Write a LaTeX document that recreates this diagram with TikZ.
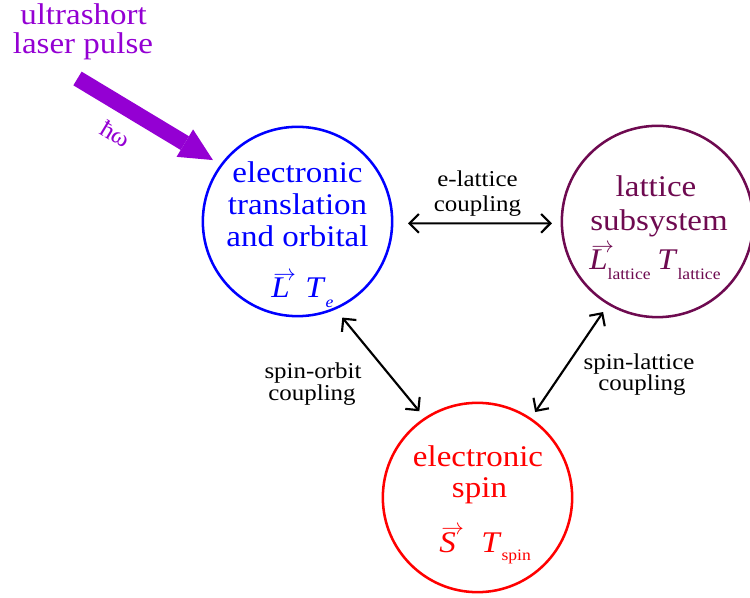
\documentclass[tikz,border=0pt]{standalone}
\usepackage{fix-cm}
\usepackage{fontspec}
\setmainfont[FakeStretch=1.1]{Liberation Serif}
\usetikzlibrary{arrows.meta,calc}
\definecolor{eblue}{RGB}{0,0,255}
\definecolor{latc}{RGB}{110,10,80}
\definecolor{spinred}{RGB}{255,0,0}
\definecolor{laser}{RGB}{148,0,211}
\newcommand{\mysub}[2][-7.5pt]{\raisebox{#1}{\fontsize{12}{13}\selectfont #2}}
\newcommand{\vecx}[1]{\leavevmode\rlap{\raisebox{13pt}{\hspace{1.5pt}\fontsize{17}{17}\selectfont$\rightarrow$}}\textit{#1}}
\begin{document}
\begin{tikzpicture}[x=0.75pt,y=-0.75pt,
  sys/.style={circle,draw,line width=1.9pt,minimum size=142pt,inner sep=0pt,outer sep=0pt},
  big/.style={anchor=base,inner sep=0pt,font=\fontsize{22.5}{26}\selectfont},
  bigw/.style={anchor=base west,inner sep=0pt,font=\fontsize{22.5}{26}\selectfont},
  cpltxt/.style={anchor=base,inner sep=0pt,font=\fontsize{17}{20}\selectfont},
  cpl/.style={line width=1.6pt,{Straight Barb[length=7pt,width=14pt]}-{Straight Barb[length=7pt,width=14pt]}}]
\useasboundingbox (0,0) rectangle (750,598);
% subsystems
\node[sys,draw=eblue] (blue) at (297.5,221.5) {};
\node[sys,draw=latc,minimum size=143.5pt] (latt) at (657.5,221.5) {};
\node[sys,draw=spinred] (spin) at (477.5,497.5) {};
% electronic translation and orbital
\node[big,text=eblue] (b1) at (297.5,183) {electronic};
\node[big,text=eblue] (b2) at (297.5,215) {translation};
\node[big,text=eblue] (b3) at (297.5,247) {and orbital};
\node[bigw,text=eblue] (bL) at (271,298) {\vecx{L}};
\node[bigw,text=eblue] (bT) at (305,298) {\textit{T}\mysub{\textit{e}}};
% lattice
\node[big,text=latc] (l1) at (656,197) {lattice};
\node[big,text=latc] (l2) at (659,231) {subsystem};
\node[bigw,text=latc] (lL) at (589,270) {\vecx{L}\mysub{lattice}};
\node[bigw,text=latc] (lT) at (657,270) {\textit{T}\mysub{lattice}};
% spin
\node[big,text=spinred] (s1) at (478,467) {electronic};
\node[big,text=spinred] (s2) at (479.5,498) {spin};
\node[bigw,text=spinred] (sS) at (439,552) {\vecx{S}};
\node[bigw,text=spinred] (sT) at (481,552) {\textit{T}\mysub[-6pt]{spin}};
% laser
\node[big,text=laser] (u1) at (83.5,25) {ultrashort};
\node[big,text=laser] (u2) at (83,54) {laser pulse};
\coordinate (ltail) at (77.5,78.5);
\coordinate (lhead) at ($(blue.center)!78.4pt!(blue.144)$);
\draw[laser,line width=12pt,-{Triangle[length=24.6pt,width=24pt,line width=0pt]}] (ltail) -- (lhead);
\node[text=laser,inner sep=0pt,rotate=-31,font=\fontsize{18}{20}\selectfont] (hw) at (116,134) {ħω};
% couplings
\draw[cpl] ($(blue.center)!82.9pt!(blue.-1.6)$) -- ($(latt.center)!79.2pt!(latt.181.9)$);
\draw[cpl] ($(blue.center)!79.5pt!(blue.-65.2)$) -- ($(spin.center)!78pt!(spin.124.8)$);
\draw[cpl] ($(latt.center)!79.2pt!(latt.-121)$) -- ($(spin.center)!77.3pt!(spin.56.1)$);
\node[cpltxt] (c1) at (477.5,187) {e-lattice};
\node[cpltxt] (c2) at (477.5,212) {coupling};
\node[cpltxt] (c3) at (313,379) {spin-orbit};
\node[cpltxt] (c4) at (312,401) {coupling};
\node[cpltxt] (c5) at (639,370) {spin-lattice};
\node[cpltxt] (c6) at (642,391) {coupling};
\end{tikzpicture}
\end{document}
